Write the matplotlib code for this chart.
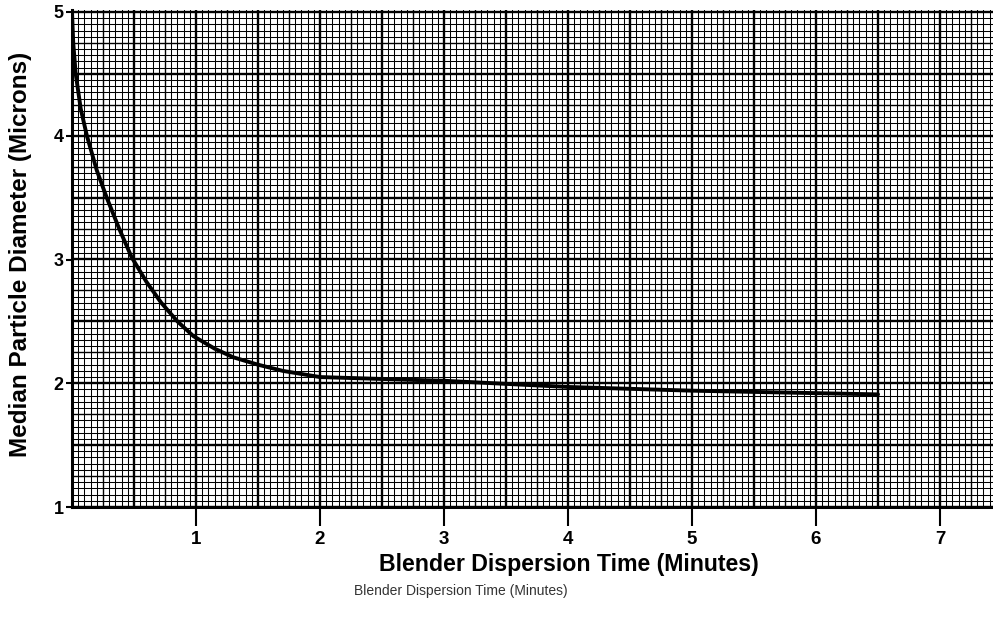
import numpy as np
import matplotlib
matplotlib.use("Agg")
import matplotlib.pyplot as plt

# Data
time_min = [0.0, 0.01, 0.03, 0.07, 0.12, 0.2, 0.28, 0.38, 0.48, 0.6, 0.72, 0.85, 0.98,
            1.15, 1.3, 1.5, 1.7, 2.0, 2.65, 3.0, 4.0, 5.0, 6.0, 6.5]
diameter = [5.0, 4.75, 4.5, 4.22, 4.0, 3.72, 3.5, 3.25, 3.02, 2.82, 2.65, 2.5, 2.38,
            2.28, 2.21, 2.15, 2.1, 2.05, 2.03, 2.02, 1.97, 1.94, 1.92, 1.91]
x_ticks = [1, 2, 3, 4, 5, 6, 7]
y_ticks = [1, 2, 3, 4, 5]

plt.rcParams['font.family'] = ['Liberation Sans', 'DejaVu Sans']

fig = plt.figure(figsize=(9.93, 6.18), dpi=100)
ax = fig.add_axes([72/993, (618-507)/618, 1 - 72/993, (507-10)/618])
xmax = (993-72)/124.0
ax.set_xlim(0, xmax)
ax.set_ylim(1, 1 + (507-10)/123.75)

# graph-paper grid
for v in np.arange(0, xmax + 0.01, 0.05):
    k = int(round(v / 0.05))
    if k % 10 == 0:
        ax.axvline(v, color='black', lw=1.7, zorder=1)
    elif k % 5 == 0:
        ax.axvline(v, color='black', lw=1.0, zorder=1)
    else:
        ax.axvline(v, color='black', lw=0.75, zorder=1)
for v in np.arange(1, 5.05, 0.05):
    k = int(round((v - 1) / 0.05))
    if k % 10 == 0:
        ax.axhline(v, color='black', lw=1.7, zorder=1)
    elif k % 5 == 0:
        ax.axhline(v, color='black', lw=1.0, zorder=1)
    else:
        ax.axhline(v, color='black', lw=0.75, zorder=1)

ax.plot(time_min, diameter, color='black', lw=2.8, zorder=3, solid_capstyle='round',
        solid_joinstyle='round')

for s in ['top', 'right']:
    ax.spines[s].set_visible(False)
ax.spines['left'].set_linewidth(2.2)
ax.spines['bottom'].set_linewidth(2.2)

ax.set_xticks(x_ticks)
ax.set_xticklabels([str(t) for t in x_ticks], fontsize=13.5, fontweight='bold')
ax.set_yticks(y_ticks)
ax.set_yticklabels([str(t) for t in y_ticks], fontsize=13, fontweight='bold')
ax.tick_params(axis='x', direction='out', length=14, width=1.5, pad=3)
ax.tick_params(axis='y', direction='out', length=4, width=1.5, pad=2)

fig.text(21/993, 1 - 254/618, 'Median Particle Diameter (Microns)', fontsize=17.5,
         fontweight='bold', ha='center', va='center', rotation=90)
fig.text(569/993, 1 - 565/618, 'Blender Dispersion Time (Minutes)', fontsize=16.7,
         fontweight='bold', ha='center', va='center')
fig.text(461/993, 1 - 591/618, 'Blender Dispersion Time (Minutes)', fontsize=10,
         color='#333333', ha='center', va='center')

fig.savefig('out.png', dpi=100)
